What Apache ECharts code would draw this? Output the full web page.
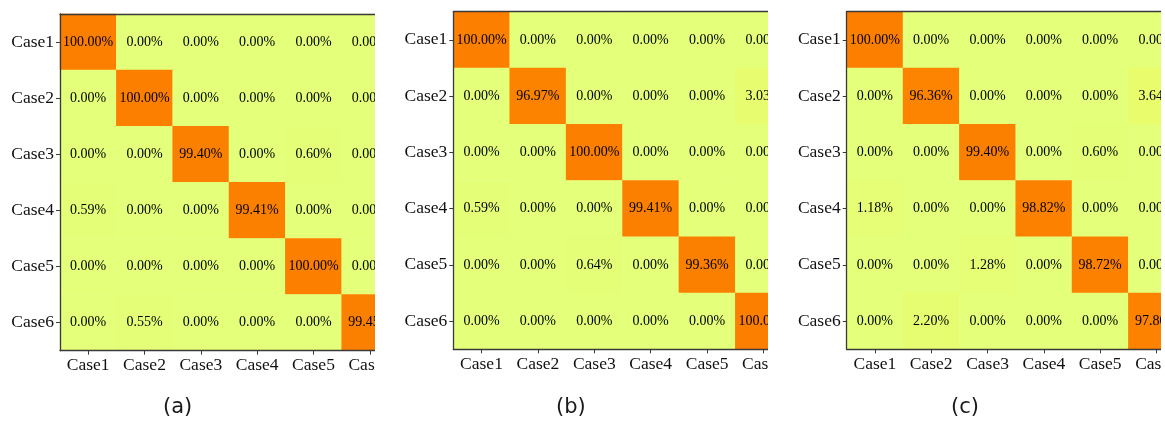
<!DOCTYPE html>
<html>
<head>
<meta charset="utf-8">
<script src="https://cdn.jsdelivr.net/npm/echarts@6/dist/echarts.min.js"></script>
<style>
  html, body { margin: 0; padding: 0; background: #fff; width: 1165px; height: 421px; overflow: hidden; }
  .panel { position: absolute; top: 0; height: 421px; overflow: hidden; }
  .chart { position: absolute; left: 0; top: 0; height: 421px; }
</style>
</head>
<body>
<div class="panel" style="left:0;width:375px"><div class="chart" id="ca" style="width:440px"></div></div>
<div class="panel" style="left:390px;width:378px"><div class="chart" id="cb" style="width:440px"></div></div>
<div class="panel" style="left:780px;width:381px"><div class="chart" id="cc" style="width:440px"></div></div>
<script>
// Class names shared by both axes
const categories = ['Case1', 'Case2', 'Case3', 'Case4', 'Case5', 'Case6'];

// Confusion matrices in percent, one row per true class
const matrixA = [
  [100.00, 0.00, 0.00, 0.00, 0.00, 0.00],
  [0.00, 100.00, 0.00, 0.00, 0.00, 0.00],
  [0.00, 0.00, 99.40, 0.00, 0.60, 0.00],
  [0.59, 0.00, 0.00, 99.41, 0.00, 0.00],
  [0.00, 0.00, 0.00, 0.00, 100.00, 0.00],
  [0.00, 0.55, 0.00, 0.00, 0.00, 99.45]
];
const matrixB = [
  [100.00, 0.00, 0.00, 0.00, 0.00, 0.00],
  [0.00, 96.97, 0.00, 0.00, 0.00, 3.03],
  [0.00, 0.00, 100.00, 0.00, 0.00, 0.00],
  [0.59, 0.00, 0.00, 99.41, 0.00, 0.00],
  [0.00, 0.00, 0.64, 0.00, 99.36, 0.00],
  [0.00, 0.00, 0.00, 0.00, 0.00, 100.00]
];
const matrixC = [
  [100.00, 0.00, 0.00, 0.00, 0.00, 0.00],
  [0.00, 96.36, 0.00, 0.00, 0.00, 3.64],
  [0.00, 0.00, 99.40, 0.00, 0.60, 0.00],
  [1.18, 0.00, 0.00, 98.82, 0.00, 0.00],
  [0.00, 0.00, 1.28, 0.00, 98.72, 0.00],
  [0.00, 2.20, 0.00, 0.00, 0.00, 97.80]
];
const captions = ['(a)', '(b)', '(c)'];

// Wistia-like ramp: pale lime for 0 % up to orange for 100 %
const palette = ['#e4ff7a', '#ffe81a', '#ffbd00', '#ffa000', '#fc7f00'];
const serif = '"Liberation Serif", "Times New Roman", serif';
const spine = '#3a3a3a';

function toCells(matrix) {
  const cells = [];
  matrix.forEach((row, r) => row.forEach((v, c) => cells.push([c, r, v])));
  return cells;
}

function buildOption(matrix, caption, layout) {
  return {
    animation: false,
    grid: { left: layout.left, top: layout.top, width: layout.width, height: layout.height },
    visualMap: { show: false, min: 0, max: 100, calculable: false, inRange: { color: palette } },
    xAxis: [
      {
        type: 'category', data: categories, position: 'bottom', z: 10,
        axisLine: { show: true, lineStyle: { color: spine, width: 1.3 } },
        axisTick: { show: true, alignWithLabel: true, length: 4, lineStyle: { color: spine, width: 1 } },
        axisLabel: { color: '#111', fontFamily: serif, fontSize: 17.5, margin: 6 },
        splitLine: { show: false }, splitArea: { show: false }
      },
      {
        type: 'category', data: categories, position: 'top', z: 10,
        axisLine: { show: true, lineStyle: { color: spine, width: 1.3 } },
        axisTick: { show: false }, axisLabel: { show: false }
      }
    ],
    yAxis: {
      type: 'category', data: categories, inverse: true, z: 10,
      axisLine: { show: true, lineStyle: { color: spine, width: 1.3 } },
      axisTick: { show: true, alignWithLabel: true, length: 4, lineStyle: { color: spine, width: 1 } },
      axisLabel: { color: '#111', fontFamily: serif, fontSize: 17.5, margin: 6 },
      splitLine: { show: false }, splitArea: { show: false }
    },
    graphic: [{
      type: 'text', left: layout.caption, top: 397,
      style: { text: caption, font: '21px "DejaVu Sans", sans-serif', fill: '#1a1a1a', textAlign: 'center' }
    }],
    series: [{
      type: 'heatmap',
      xAxisIndex: 0,
      data: toCells(matrix),
      itemStyle: { borderWidth: 0 },
      emphasis: { disabled: true },
      label: {
        show: true, color: '#000', fontFamily: serif, fontSize: 14,
        formatter: p => p.value[2].toFixed(2) + '%'
      }
    }]
  };
}

const panels = [
  { id: 'ca', matrix: matrixA, caption: captions[0], layout: { left: 60, top: 14, width: 338, height: 336.7, caption: 163 } },
  { id: 'cb', matrix: matrixB, caption: captions[1], layout: { left: 63.3, top: 11.7, width: 338.4, height: 337.6, caption: 166 } },
  { id: 'cc', matrix: matrixC, caption: captions[2], layout: { left: 66.7, top: 11.7, width: 338, height: 337.6, caption: 171 } }
];

panels.forEach(p => {
  const chart = echarts.init(document.getElementById(p.id), null, { renderer: 'canvas' });
  chart.setOption(buildOption(p.matrix, p.caption, p.layout));
});
</script>
</body>
</html>
